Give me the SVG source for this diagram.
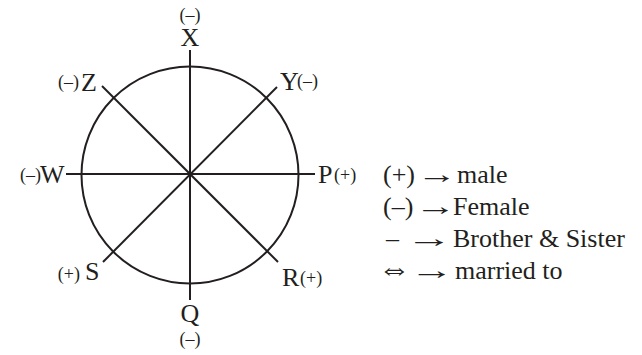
<svg xmlns="http://www.w3.org/2000/svg" width="642" height="355" viewBox="0 0 642 355">
<style>
.ln{stroke:#231f20;stroke-width:2;fill:none;stroke-linecap:butt}
.t{font-family:"Liberation Serif","Times New Roman",serif;fill:#231f20}
.big{font-size:26px}
.sm{font-size:18px}
.m{text-anchor:middle}
.e{text-anchor:end}
</style>
<rect width="642" height="355" fill="#ffffff"/>
<g id="connectors">
<circle class="ln" cx="190" cy="175" r="108.5"/>
<line class="ln" x1="190" y1="50" x2="190" y2="300"/>
<line class="ln" x1="66" y1="174" x2="315" y2="174"/>
<line class="ln" x1="102" y1="86" x2="278" y2="262"/>
<line class="ln" x1="277" y1="87" x2="103" y2="262"/>
</g>
<g id="node-X"><text class="t sm m" x="190" y="21">(–)</text><text class="t big m" x="190" y="46">X</text></g>
<g id="node-Y"><text class="t big" x="280" y="90">Y</text><text class="t sm" x="297" y="87">(–)</text></g>
<g id="node-Z"><text class="t sm e" x="79" y="88">(–)</text><text class="t big" x="81" y="91">Z</text></g>
<g id="node-W"><text class="t sm e" x="41" y="181">(–)</text><text class="t big" x="40" y="183">W</text></g>
<g id="node-P"><text class="t big" x="318" y="183">P</text><text class="t sm" x="334" y="181">(+)</text></g>
<g id="node-R"><text class="t big" x="282" y="286">R</text><text class="t sm" x="300" y="284">(+)</text></g>
<g id="node-S"><text class="t sm e" x="80" y="280">(+)</text><text class="t big" x="85" y="280">S</text></g>
<g id="node-Q"><text class="t big m" x="190" y="322">Q</text><text class="t sm m" x="190" y="345">(–)</text></g>
<g id="legend">
<text class="t big" x="383" y="183">(+)</text><text class="t big" transform="translate(417,183) scale(1.55,1)">→</text><text class="t big" x="457" y="183">male</text>
<text class="t big" x="383" y="215">(–)</text><text class="t big" transform="translate(415,215) scale(1.6,1)">→</text><text class="t big" x="453" y="215">Female</text>
<text class="t big" x="386" y="247">–</text><text class="t big" transform="translate(406,247) scale(1.8,1)">→</text><text class="t big" x="453" y="247">Brother &amp; Sister</text>
<text class="t big" transform="translate(378,279) scale(1.25,1.2)">⇔</text><text class="t big" transform="translate(410,279) scale(1.7,1)">→</text><text class="t big" x="455" y="279">married to</text>
</g>
</svg>
